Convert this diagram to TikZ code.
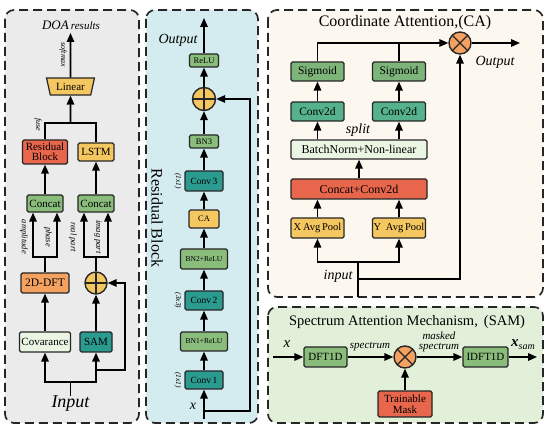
\documentclass[tikz,border=0pt]{standalone}
\usepackage{fontspec}
\setmainfont{Liberation Serif}
\usetikzlibrary{shapes.geometric,arrows.meta}
\definecolor{gbox}{HTML}{8ABC7C}
\definecolor{sbox}{HTML}{7DB47A}
\definecolor{cbox}{HTML}{55B28C}
\definecolor{tealbox}{HTML}{2B9A8F}
\definecolor{orbox}{HTML}{F5A160}
\definecolor{redbox}{HTML}{E8664B}
\definecolor{yelbox}{HTML}{F5C760}
\definecolor{ltgrn}{HTML}{EAF5E3}
\definecolor{bgA}{HTML}{EBEBEB}
\definecolor{bgB}{HTML}{D4EBF0}
\definecolor{bgC}{HTML}{FDF8EF}
\definecolor{bgD}{HTML}{E2F0D9}
\newcommand{\fs}[1]{\fontsize{#1}{#1}\selectfont}
\begin{document}
\begin{tikzpicture}[x=1pt,y=-1pt,
 panel/.style={draw=black!85, line width=1.7pt, dash pattern=on 9pt off 5pt, rounded corners=9pt},
 box/.style={draw=black!85, line width=1.2pt, rounded corners=1.5pt, inner sep=1pt, align=center, text=black},
 arr/.style={line width=1.6pt, -{Triangle[length=9pt,width=7.5pt]}},
 ln/.style={line width=1.6pt},
 lbl/.style={font=\itshape, inner sep=0pt},
 oplusnode/.style={circle, draw=black!85, line width=1.4pt, fill=yelbox, minimum size=22pt, inner sep=0pt,
   path picture={\draw[line width=1.3pt] (path picture bounding box.north) -- (path picture bounding box.south) (path picture bounding box.west) -- (path picture bounding box.east);}},
 otimesnode/.style={circle, draw=black!85, line width=1.4pt, fill=orbox, minimum size=22pt, inner sep=0pt,
   path picture={\draw[line width=1.3pt] (path picture bounding box.north west) -- (path picture bounding box.south east) (path picture bounding box.south west) -- (path picture bounding box.north east);}},
]
\useasboundingbox (0,0) rectangle (550,430);
% panels
\draw[panel, fill=bgA] (5,10) rectangle (139,423);
\draw[panel, fill=bgB] (146,10) rectangle (258,423);
\draw[panel, fill=bgC] (268,10) rectangle (543,297);
\draw[panel, fill=bgD] (268,307) rectangle (543,423);

% ---------- Panel 1 ----------
\node[lbl] (doa) at (71,25) {\fs{13}DOA\,\fs{11}results};
\coordinate (doaend) at (70.5,33);
\node[trapezium, trapezium stretches=true, shape border rotate=180, draw=black!85, line width=1.2pt,
  fill=yelbox, minimum width=48pt, minimum height=17pt, trapezium angle=73, inner sep=1pt,
  font=\fs{11}] (lin) at (70.5,86.5) {Linear};
\draw[arr] (lin.north) -- (doaend);
\node[lbl, rotate=-90, font=\itshape\fs{8}] (smx) at (63,55) {softmax};
\node[box, fill=redbox, minimum width=45pt, minimum height=24pt, font=\fontsize{11}{10}\selectfont] (rb) at (45,152) {Residual\\Block};
\node[box, fill=yelbox, minimum width=36pt, minimum height=18pt, font=\fs{11}] (lstm) at (96,152) {LSTM};
\coordinate (fj) at (70.5,123);
\draw[ln] (rb.north) |- (fj) -| (lstm.north);
\draw[arr] (fj) -- (lin.south);
\node[lbl, rotate=-90, font=\itshape\fs{8}] (fuse) at (38,125) {fuse};
\node[box, fill=gbox, minimum width=36pt, minimum height=17pt, font=\fs{11}] (catA) at (45,203.5) {Concat};
\node[box, fill=gbox, minimum width=36pt, minimum height=17pt, font=\fs{11}] (catB) at (96,203.5) {Concat};
\draw[arr] (catA.north) -- (rb.south);
\draw[arr] (catB.north) -- (lstm.south);
\node[box, fill=orbox, minimum width=48pt, minimum height=20pt, font=\fs{11.5}] (dft) at (45,283) {2D-DFT};
\node[oplusnode] (opA) at (96,283) {};
\coordinate (jA) at (45,257);
\coordinate (jB) at (96,257);
\draw[ln] (dft.north) -- (jA);
\draw[ln] (opA.north) -- (jB);
\draw[arr] (jA) -| ([xshift=-12pt]catA.south);
\draw[arr] (jA) -| ([xshift=12pt]catA.south);
\draw[arr] (jB) -| ([xshift=-12pt]catB.south);
\draw[arr] (jB) -| ([xshift=12pt]catB.south);
\node[lbl, rotate=-90, font=\itshape\fs{8.5}] (lamp) at (24,237) {amplitude};
\node[lbl, rotate=-90, font=\itshape\fs{8.5}] (lpha) at (48,237) {phase};
\node[lbl, rotate=-90, font=\itshape\fs{8.5}] (lrea) at (73,237) {real part};
\node[lbl, rotate=-90, font=\itshape\fs{8.5}] (lima) at (98,237) {imag part};
\node[box, fill=ltgrn, minimum width=51pt, minimum height=20pt, font=\fs{11}] (cov) at (45,342) {Covarance};
\node[box, fill=tealbox, minimum width=32pt, minimum height=20pt, font=\fs{11}] (sam) at (96,342) {SAM};
\draw[arr] (cov.north) -- (dft.south);
\draw[arr] (sam.north) -- (opA.south);
\node[lbl, font=\itshape\fs{18}] (inp) at (70.5,404) {Input};
\coordinate (inA) at (70.5,382);
\draw[ln] (inp.north) -- (inA);
\draw[arr] (inA) -| (cov.south);
\draw[arr] (inA) -| (sam.south);
\coordinate (skA) at (96,370);
\draw[arr] (skA) -- ++(29,0) |- (opA.east);

% ---------- Panel 2 ----------
\coordinate (outB) at (204,18);
\node[lbl, font=\itshape\fs{14}] (outBt) at (178,40) {Output};
\node[box, fill=gbox, minimum width=29pt, minimum height=13pt, font=\fs{8.5}] (relu) at (204,60.5) {ReLU};
\node[oplusnode, minimum size=23pt] (opB) at (204,99) {};
\node[box, fill=gbox, minimum width=29pt, minimum height=13pt, font=\fs{8.5}] (bn3) at (204,141.5) {BN3};
\node[box, fill=tealbox, minimum width=38pt, minimum height=20pt, font=\fs{9.5}] (conv3) at (204,181) {Conv\,3};
\node[box, fill=yelbox, minimum width=30pt, minimum height=18pt, font=\fs{8.5}] (ca) at (204,219) {CA};
\node[box, fill=gbox, minimum width=47pt, minimum height=20pt, font=\fs{7.5}] (bn2) at (204,259) {BN2+ReLU};
\node[box, fill=tealbox, minimum width=38pt, minimum height=19pt, font=\fs{9.5}] (conv2) at (204,300.5) {Conv\,2};
\node[box, fill=gbox, minimum width=47pt, minimum height=19pt, font=\fs{7.5}] (bn1) at (204,341.5) {BN1+ReLU};
\node[box, fill=tealbox, minimum width=38pt, minimum height=18pt, font=\fs{9.5}] (conv1) at (204,380) {Conv\,1};
\node[lbl, font=\itshape\fs{14}] (xB) at (193,406) {x};
\coordinate (xBin) at (204,419);
\coordinate (skB) at (204,411);
\draw[arr] (xBin) -- (conv1.south);
\draw[arr] (conv1.north) -- (bn1.south);
\draw[arr] (bn1.north) -- (conv2.south);
\draw[arr] (conv2.north) -- (bn2.south);
\draw[arr] (bn2.north) -- (ca.south);
\draw[arr] (ca.north) -- (conv3.south);
\draw[arr] (conv3.north) -- (bn3.south);
\draw[arr] (bn3.north) -- (opB.south);
\draw[arr] (opB.north) -- (relu.south);
\draw[arr] (relu.north) -- (outB);
\draw[arr] (skB) -- ++(46,0) |- (opB.east);
\node[lbl, rotate=-90, font=\itshape\fs{7.5}] (k3) at (178,181) {(1x1)};
\node[lbl, rotate=-90, font=\itshape\fs{7.5}] (k2) at (178,300.5) {(3x3)};
\node[lbl, rotate=-90, font=\itshape\fs{7.5}] (k1) at (178,380) {(1x1)};
\node[rotate=-90, font=\fs{16}, inner sep=0pt] (rbt) at (157,218) {Residual Block};

% ---------- Panel 3 ----------
\node[font=\fs{16}, inner sep=0pt] (caT) at (405,23) {Coordinate Attention,(CA)};
\node[otimesnode] (otC) at (460,43) {};
\node[box, fill=sbox, minimum width=53pt, minimum height=19pt, font=\fs{11.5}] (sigL) at (317.5,71.5) {Sigmoid};
\node[box, fill=sbox, minimum width=53pt, minimum height=19pt, font=\fs{11.5}] (sigR) at (399,71.5) {Sigmoid};
\node[box, fill=cbox, minimum width=53pt, minimum height=19pt, font=\fs{11.5}] (cdL) at (317.5,111.5) {Conv2d};
\node[box, fill=cbox, minimum width=53pt, minimum height=19pt, font=\fs{11.5}] (cdR) at (399,111.5) {Conv2d};
\draw[arr] (sigL.north) |- (otC.west);
\draw[ln] (sigR.north) -- (sigR.north |- otC.west);
\coordinate (outC) at (520,43);
\draw[arr] (otC.east) -- (outC);
\node[lbl, font=\itshape\fs{14}] (outCt) at (495,62) {Output};
\draw[arr] (cdL.north) -- (sigL.south);
\draw[arr] (cdR.north) -- (sigR.south);
\node[lbl, font=\itshape\fs{14}] (split) at (358,130) {split};
\node[box, fill=ltgrn, minimum width=136pt, minimum height=19pt, font=\fs{12}] (bnC) at (359,149.5) {BatchNorm+Non-linear};
\draw[arr] (cdL.south |- bnC.north) -- (cdL.south);
\draw[arr] (cdR.south |- bnC.north) -- (cdR.south);
\node[box, fill=redbox, minimum width=136pt, minimum height=20pt, font=\fs{12}] (ccC) at (359,189) {Concat+Conv2d};
\draw[arr] (ccC.north) -- (bnC.south);
\node[box, fill=yelbox, minimum width=53pt, minimum height=20pt, font=\fs{10.5}] (xap) at (317.5,228) {X\,Avg\,Pool};
\node[box, fill=yelbox, minimum width=53pt, minimum height=20pt, font=\fs{10.5}] (yap) at (399,228) {Y\;\,Avg\,Pool};
\draw[arr] (xap.north) -- (xap.north |- ccC.south);
\draw[arr] (yap.north) -- (yap.north |- ccC.south);
\coordinate (jC) at (358,262);
\coordinate (inC) at (358,297);
\coordinate (skC) at (358,279);
\draw[ln] (inC) -- (jC);
\draw[arr] (jC) -| (xap.south);
\draw[arr] (jC) -| (yap.south);
\draw[arr] (skC) -| (otC.south);
\node[lbl, font=\itshape\fs{14}] (inCt) at (338,276) {input};

% ---------- Panel 4 ----------
\node[font=\fs{14.5}, inner sep=0pt] (samT) at (407,322) {Spectrum Attention Mechanism, \,(SAM)};
\coordinate (xD) at (273,357);
\node[lbl, font=\itshape\fs{15}] (xDt) at (287,344) {x};
\node[box, fill=gbox, minimum width=43pt, minimum height=20pt, font=\fs{11}] (dft1) at (325.5,357) {DFT1D};
\node[otimesnode] (otD) at (405,357) {};
\node[box, fill=gbox, minimum width=45pt, minimum height=20pt, font=\fs{11}] (idft) at (485.5,357) {IDFT1D};
\node[box, fill=redbox, minimum width=54pt, minimum height=26pt, font=\fontsize{11}{11}\selectfont] (mask) at (405,404) {Trainable\\Mask};
\coordinate (outD) at (537,357);
\draw[arr] (xD) -- (dft1.west);
\draw[arr] (dft1.east) -- (otD.west);
\draw[arr] (otD.east) -- (idft.west);
\draw[arr] (idft.east) -- (outD);
\draw[arr] (mask.north) -- (otD.south);
\node[lbl, font=\itshape\fs{11}] (spec) at (370,347) {spectrum};
\node[lbl, font=\itshape\fontsize{11}{10}\selectfont, align=center] (mspec) at (439,342) {masked\\spectrum};
\node[lbl] (xsam) at (523,345) {{\fs{15}\bfseries\itshape x}\raisebox{-3pt}{\fs{10}\itshape sam}};
\end{tikzpicture}
\end{document}
